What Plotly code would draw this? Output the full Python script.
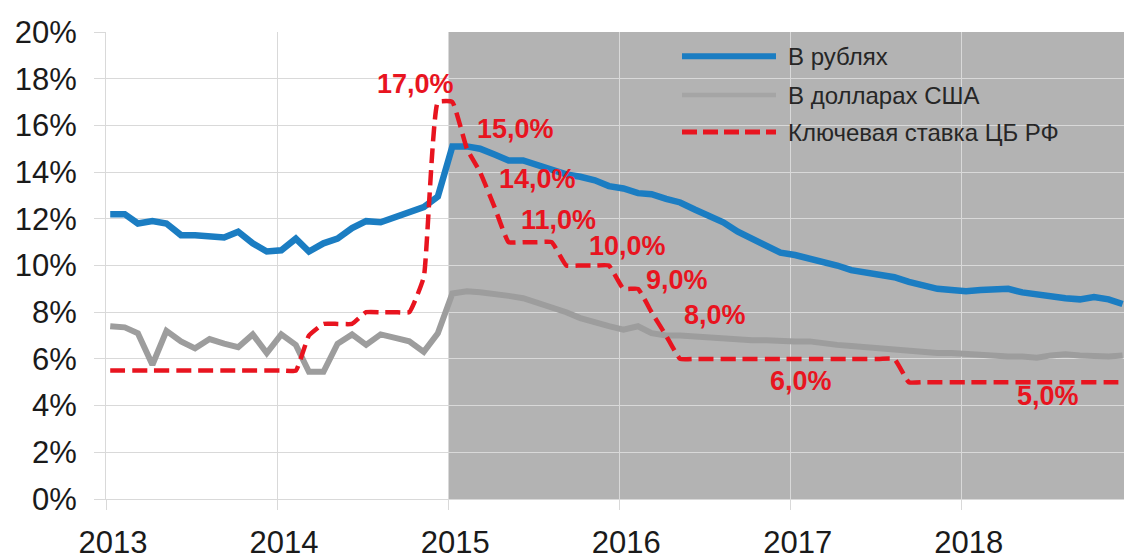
import pandas as pd
import plotly.graph_objects as go

# Monthly observations, Jan 2013 - Dec 2018 (values in %)
months = pd.date_range("2013-01-01", periods=72, freq="MS") + pd.Timedelta(days=9)

rate_rub = [
    12.2, 12.2, 11.8, 11.9, 11.8, 11.3, 11.3, 11.25, 11.2, 11.45, 10.95, 10.6,
    10.65, 11.15, 10.6, 10.95, 11.15, 11.6, 11.9, 11.85, 12.05, 12.25, 12.5, 12.95,
    15.1, 15.1, 15.0, 14.75, 14.5, 14.5, 14.3, 14.05, 13.9, 13.8, 13.65, 13.4,
    13.3, 13.1, 13.05, 12.85, 12.7, 12.4, 12.1, 11.85, 11.45, 11.15, 10.8, 10.55,
    10.45, 10.3, 10.2, 10.0, 9.8, 9.7, 9.6, 9.5, 9.3, 9.15, 9.0, 8.95,
    8.9, 8.95, 9.0, 9.0, 8.85, 8.75, 8.65, 8.6, 8.55, 8.65, 8.55, 8.35,
]

rate_usd = [
    7.4, 7.35, 7.1, 5.75, 7.2, 6.75, 6.45, 6.85, 6.65, 6.5, 7.05, 6.25,
    7.05, 6.6, 5.45, 5.45, 6.65, 7.05, 6.6, 7.05, 6.9, 6.75, 6.3, 7.1,
    8.8, 8.9, 8.85, 8.8, 8.7, 8.6, 8.4, 8.25, 8.0, 7.75, 7.55, 7.4,
    7.25, 7.4, 7.1, 7.0, 7.0, 6.95, 6.9, 6.85, 6.8, 6.8, 6.8, 6.75,
    6.75, 6.75, 6.65, 6.6, 6.55, 6.5, 6.45, 6.35, 6.3, 6.3, 6.25, 6.25,
    6.2, 6.15, 6.1, 6.1, 6.1, 6.05, 6.15, 6.2, 6.15, 6.1, 6.1, 6.15,
]

key_rate = [
    5.5, 5.5, 5.5, 5.5, 5.5, 5.5, 5.5, 5.5, 5.5, 5.5, 5.5, 5.5,
    5.5, 5.5, 7.0, 7.5, 7.5, 7.5, 8.0, 8.0, 8.0, 8.0, 9.5, 17.0,
    17.0, 15.0, 14.0, 12.5, 11.0, 11.0, 11.0, 11.0, 10.0, 10.0, 10.0, 10.0,
    9.0, 9.0, 8.0, 7.0, 6.0, 6.0, 6.0, 6.0, 6.0, 6.0, 6.0, 6.0,
    6.0, 6.0, 6.0, 6.0, 6.0, 6.0, 6.0, 6.0, 5.0, 5.0, 5.0, 5.0,
    5.0, 5.0, 5.0, 5.0, 5.0, 5.0, 5.0, 5.0, 5.0, 5.0, 5.0, 5.0,
]

series_names = ["В рублях", "В долларах США", "Ключевая ставка ЦБ РФ"]
year_ticks = ["2013", "2014", "2015", "2016", "2017", "2018"]
y_ticks = list(range(0, 21, 2))
y_tick_text = [f"{v}%" for v in y_ticks]

# Key-rate labels: (month index, label offset in px)
key_labels = [
    (23, -22, 18), (25, 49, 20), (26, 57, -7), (29, 35, 22), (33, 47, 20),
    (37, 39, 9), (38, 63, -3), (48, 6, -22), (66, -3, -14),
]

shade_start = "2015-01-01"

BLUE = "#1b7dc2"
GREY_LINE = "#9d9d9d"
RED = "#e8141f"
SHADE = "#b3b3b3"
GRID = "#d9d9d9"
FONT = "Arial, Liberation Sans, sans-serif"

fig = go.Figure()
fig.add_trace(go.Scatter(
    x=months, y=rate_rub, name=series_names[0], mode="lines",
    line=dict(color=BLUE, width=6.5), showlegend=False,
))
fig.add_trace(go.Scatter(
    x=months, y=rate_usd, name=series_names[1], mode="lines",
    line=dict(color=GREY_LINE, width=6), showlegend=False,
))
fig.add_trace(go.Scatter(
    x=months, y=key_rate, name=series_names[2], mode="lines",
    line=dict(color=RED, width=4.5, dash="15px,7px", shape="spline", smoothing=0.35),
    showlegend=False,
))

# Value labels for the key rate
for idx, dx, dy in key_labels:
    v = key_rate[idx]
    fig.add_annotation(
        x=months[idx], y=v, text=f"{v:.1f}".replace(".", ",") + "%",
        showarrow=False, xshift=dx, yshift=dy,
        font=dict(family=FONT, size=27, color=RED, weight="bold"),
    )

# Shaded period
fig.add_shape(
    type="rect", xref="x", yref="paper", x0=shade_start, x1="2019-01-31",
    y0=0, y1=1, fillcolor=SHADE, line_width=0, layer="below",
)

# Legend drawn as line samples + labels (pixel layout converted to paper)
L, R, T, B = 106, 1124, 32, 513
def px(xp):
    return (xp - L) / (R - L)
def py(yp):
    return (B - yp) / (B - T)

legend_rows = [(57, dict(color=BLUE, width=6)),
               (97, dict(color="#a5a5a5", width=4.5)),
               (135, dict(color=RED, width=5, dash="15px,6px"))]
for (yrow, style), name in zip(legend_rows, series_names):
    fig.add_shape(type="line", xref="paper", yref="paper",
                  x0=px(682), x1=px(776), y0=py(yrow), y1=py(yrow), line=style)
    fig.add_annotation(xref="paper", yref="paper", x=px(786), y=py(yrow),
                       text=name, showarrow=False, xanchor="left", yanchor="middle",
                       font=dict(family=FONT, size=24, color="#262626"))

fig.update_layout(
    width=1124, height=560,
    margin=dict(l=L, r=0, t=T, b=560 - B, pad=0),
    paper_bgcolor="white", plot_bgcolor="white",
    font=dict(family=FONT, size=31, color="#1a1a1a"),
    showlegend=False,
)
fig.update_xaxes(
    type="date", range=["2013-01-01", "2018-12-13"],
    tickvals=[f"{y}-01-01" for y in year_ticks], ticktext=year_ticks,
    showgrid=True, gridcolor=GRID, gridwidth=1,
    showline=True, linecolor=GRID, linewidth=1,
    ticks="outside", ticklen=10, tickcolor=GRID,
    ticklabelstandoff=6, ticklabelshift=7,
    tickfont=dict(size=31), zeroline=False,
)
fig.update_yaxes(
    range=[0, 20], tickvals=y_ticks, ticktext=y_tick_text,
    showgrid=True, gridcolor=GRID, gridwidth=1,
    showline=True, linecolor=GRID, linewidth=1,
    ticks="outside", ticklen=11, tickcolor=GRID,
    ticklabelstandoff=11, tickfont=dict(size=31), zeroline=False,
)

fig.write_html("out.html")
